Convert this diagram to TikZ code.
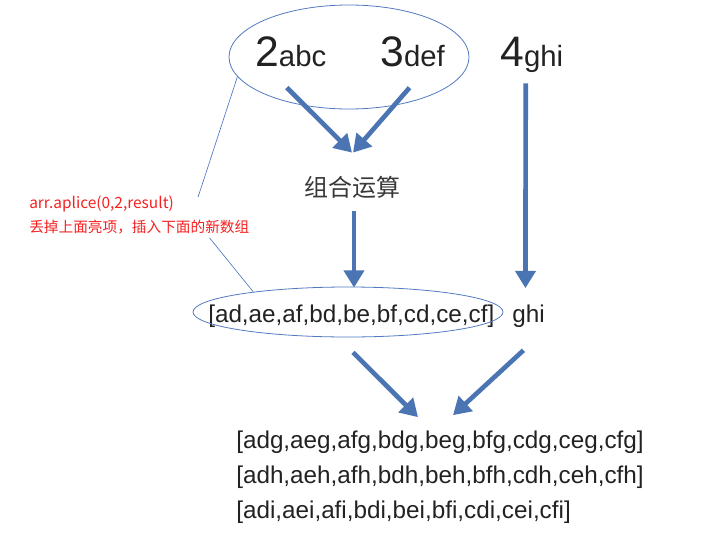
\documentclass[tikz,border=0pt]{standalone}
\usepackage{fontspec}
\setmainfont{Liberation Sans}
\newfontfamily\cjk{Noto Sans CJK SC}
\usepackage{tikz}
\usetikzlibrary{calc, arrows.meta, shapes.geometric}
\definecolor{arrowblue}{RGB}{74,116,178}
\definecolor{ringblue}{RGB}{82,122,192}
\definecolor{inkgray}{RGB}{34,34,34}
\definecolor{notered}{RGB}{245,32,32}
\newcommand{\keylbl}[2]{{\fontsize{32pt}{32pt}\selectfont #1}{\fontsize{22pt}{22pt}\selectfont #2}}
\newcommand{\rowfont}{\fontsize{18.2pt}{20pt}\selectfont}

\begin{document}
\begin{tikzpicture}[x = 0.75pt, y = -0.75pt, >={Triangle[length = 13pt, width = 15pt]},
  lbl/.style = {inner sep = 0, anchor = base west, text = inkgray},
  flow/.style = {arrowblue, line width = 3.5pt, ->},
  ring/.style = {ellipse, draw = ringblue, line width = 0.6pt, inner sep = 0},
  link/.style = {ringblue, line width = 0.5pt},
  note/.style = {inner sep = 0, anchor = base west, text = notered, font = \cjk\fontsize{11pt}{12pt}\selectfont}]
\useasboundingbox (0,0) rectangle (703,532);
\node[lbl] (n2) at (255,66) {\keylbl{2}{abc}};
\node[lbl] (n3) at (380,66) {\keylbl{3}{def}};
\node[lbl] (n4) at (500,66) {\keylbl{4}{ghi}};
\node[ring, minimum width = 180pt, minimum height = 78pt] (topring) at (349,57) {};
\node[inner sep = 0, text = inkgray!90, font = \cjk\fontsize{18pt}{20pt}\selectfont] (op) at (352,187) {组合运算};
\node[lbl, font = \rowfont] (grp) at (208,322) {[ad,ae,af,bd,be,bf,cd,ce,cf]};
\node[lbl, font = \rowfont] (ghi) at (512,322) {ghi};
\node[ring, minimum width = 232.5pt, minimum height = 37.5pt] (ring) at (348,312) {};
\node[lbl, font = \rowfont] (res1) at (236,448) {[adg,aeg,afg,bdg,beg,bfg,cdg,ceg,cfg]};
\node[lbl, font = \rowfont] (res2) at (236,483) {[adh,aeh,afh,bdh,beh,bfh,cdh,ceh,cfh]};
\node[lbl, font = \rowfont] (res3) at (236,518) {[adi,aei,afi,bdi,bei,bfi,cdi,cei,cfi]};
\node[note, font = \cjk\fontsize{11.6pt}{12pt}\selectfont] (note1) at (29,208) {arr.aplice(0,2,result)};
\node[note] (note2) at (29,232) {丢掉上面亮项，插入下面的新数组};
\draw[flow] ([shift = {(-4,21)}]n2.south) -- ([shift = {(0,-23)}]op.north);
\draw[flow] ([shift = {(-3,21)}]n3.south) -- ([shift = {(1,-23)}]op.north);
\draw[flow] ([shift = {(2,13)}]op.south) -- ([shift = {(6,1)}]ring.north);
\draw[flow] ([shift = {(-6,11)}]n4.south) -- ([shift = {(-3,-16)}]ghi.north);
\draw[flow] ([shift = {(5,15)}]ring.south) -- ([shift = {(-22,-13)}]res1.north);
\draw[flow] ([shift = {(-5,23)}]ghi.south) -- ([shift = {(13,-15)}]res1.north);
\draw[link] (topring.190) -- ([shift = {(24,2)}]note1.north east);
\draw[link] ([shift = {(-40,4)}]note2.south east) -- (ring.168);
\end{tikzpicture}
\end{document}
